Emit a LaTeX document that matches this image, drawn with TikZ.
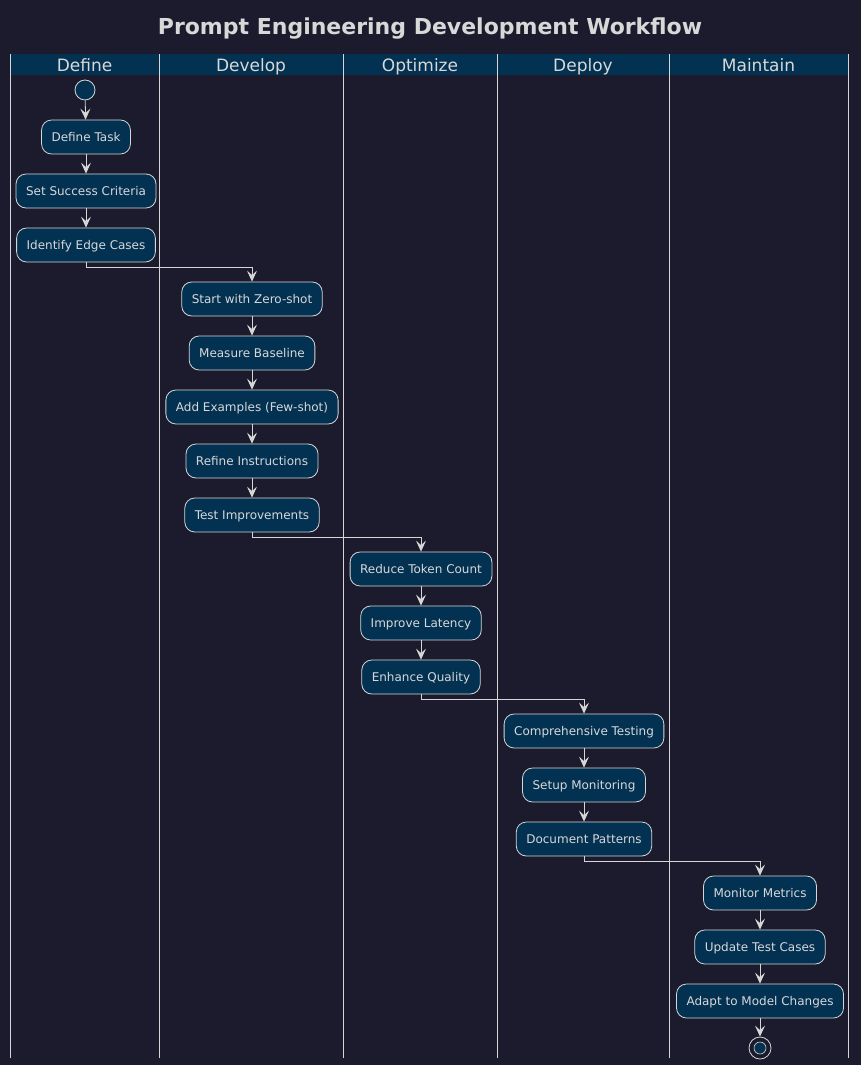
\documentclass[tikz,border=0pt]{standalone}
\usepackage{fontspec}
\setmainfont{DejaVu Sans}
\usetikzlibrary{arrows.meta}
\definecolor{bgc}{HTML}{1B1B2D}
\definecolor{boxc}{HTML}{023152}
\definecolor{linec}{HTML}{D6D6D6}
\definecolor{textc}{HTML}{D8D8D8}
\tikzset{
  act/.style={draw=linec, fill=boxc, rounded corners=10pt, minimum height=34pt,
    inner xsep=10pt, inner ysep=0pt, text height=10pt, text depth=2pt,
    text=textc, font=\fontsize{12}{14}\selectfont, line width=0.8pt},
  flow/.style={draw=linec, line width=0.8pt, -{Stealth[length=11pt,width=10pt,inset=4.5pt]}},
  lane/.style={draw=linec, line width=0.8pt},
  lanehead/.style={text=textc, font=\fontsize{17}{20}\selectfont, anchor=base, inner sep=0pt},
}
\begin{document}
\begin{tikzpicture}[x=1pt,y=-1pt]
\fill[bgc] (0,0) rectangle (861,1065);
\useasboundingbox (0,0) rectangle (861,1065);
\node[text=textc, font=\bfseries\fontsize{22}{26}\selectfont, anchor=base, inner sep=0pt] (title) at (430,35) {Prompt Engineering Development Workflow};
\fill[boxc] (10,54) rectangle (848,75);
\foreach \x in {10,159,343,497,669,848} {\draw[lane] (\x,54) -- (\x,1058);}
\node[lanehead] (hdefine) at (84.5,71) {Define};
\node[lanehead] (hdevelop) at (251,71) {Develop};
\node[lanehead] (hoptimize) at (420,71) {Optimize};
\node[lanehead] (hdeploy) at (583,71) {Deploy};
\node[lanehead] (hmaintain) at (758.5,71) {Maintain};

\node[circle, draw=linec, fill=boxc, minimum size=20pt, inner sep=0pt, line width=0.8pt] (start) at (85,90) {};
\node[act] (a1) at (86,137) {Define Task};
\node[act] (a2) at (86,191) {Set Success Criteria};
\node[act] (a3) at (86,245) {Identify Edge Cases};
\node[act] (b1) at (252,299) {Start with Zero-shot};
\node[act] (b2) at (252,353) {Measure Baseline};
\node[act] (b3) at (252,407) {Add Examples (Few-shot)};
\node[act] (b4) at (252,461) {Refine Instructions};
\node[act] (b5) at (252,515) {Test Improvements};
\node[act] (c1) at (421,569) {Reduce Token Count};
\node[act] (c2) at (421,623) {Improve Latency};
\node[act] (c3) at (421,677) {Enhance Quality};
\node[act] (d1) at (584,731) {Comprehensive Testing};
\node[act] (d2) at (584,785) {Setup Monitoring};
\node[act] (d3) at (584,839) {Document Patterns};
\node[act] (e1) at (760,893) {Monitor Metrics};
\node[act] (e2) at (760,947) {Update Test Cases};
\node[act] (e3) at (760,1001) {Adapt to Model Changes};
\node[circle, draw=linec, minimum size=22pt, inner sep=0pt, line width=0.8pt] (stop) at (760,1048) {};
\node[circle, draw=linec, fill=boxc, minimum size=12pt, inner sep=0pt, line width=0.6pt] (stopin) at (760,1048) {};

\draw[flow] (start) -- (a1);
\draw[flow] (a1) -- (a2);
\draw[flow] (a2) -- (a3);
\draw[flow] (a3.south) -- ++(0,5) -| (b1.north);
\draw[flow] (b1) -- (b2);
\draw[flow] (b2) -- (b3);
\draw[flow] (b3) -- (b4);
\draw[flow] (b4) -- (b5);
\draw[flow] (b5.south) -- ++(0,5) -| (c1.north);
\draw[flow] (c1) -- (c2);
\draw[flow] (c2) -- (c3);
\draw[flow] (c3.south) -- ++(0,5) -| (d1.north);
\draw[flow] (d1) -- (d2);
\draw[flow] (d2) -- (d3);
\draw[flow] (d3.south) -- ++(0,5) -| (e1.north);
\draw[flow] (e1) -- (e2);
\draw[flow] (e2) -- (e3);
\draw[flow] (e3) -- (stop);
\end{tikzpicture}
\end{document}
